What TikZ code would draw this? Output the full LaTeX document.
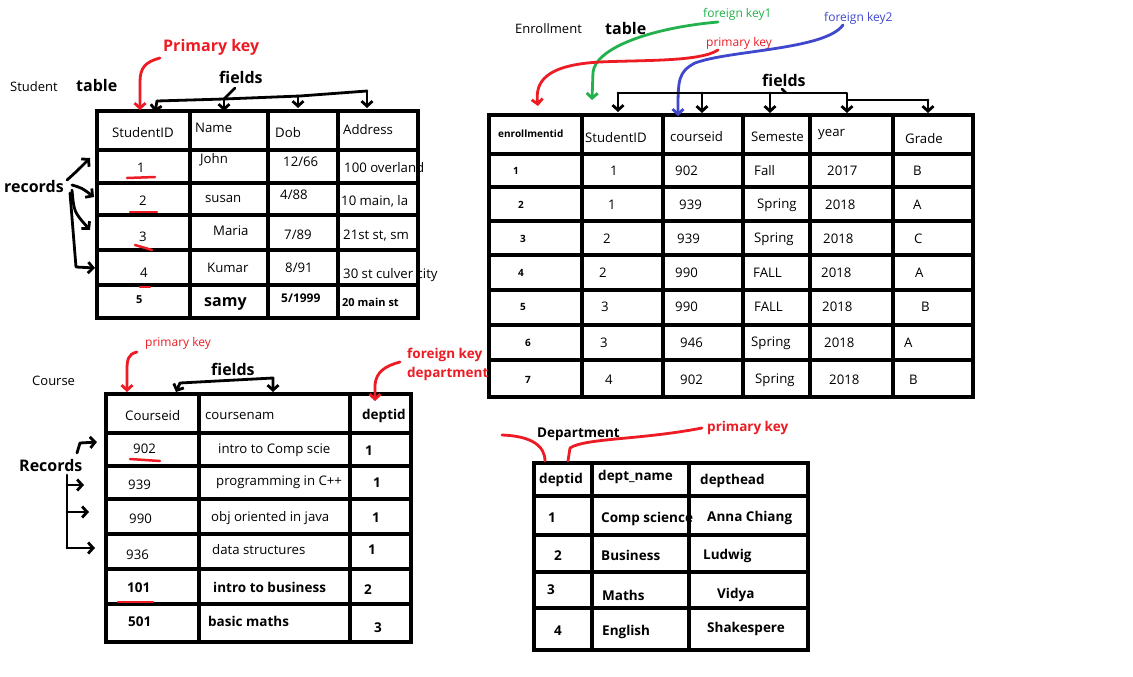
\documentclass[tikz,border=0pt]{standalone}
\usepackage{fontspec}
\setmainfont{Open Sans}
\usetikzlibrary{arrows.meta}
\definecolor{pred}{RGB}{237,28,36}
\definecolor{pgreen}{RGB}{34,177,76}
\definecolor{pblue}{RGB}{63,72,204}
\tikzset{
  gridline/.style={line width=4.5pt, line cap=rect},
  tx/.style={inner sep=0pt, anchor=west, font=\fontsize{13.2}{15}\selectfont},
  sm/.style={inner sep=0pt, anchor=west, font=\fontsize{13}{15}\selectfont},
  key/.style={inner sep=0pt, anchor=west, font=\fontsize{12}{14}\selectfont},
  bd/.style={inner sep=0pt, anchor=west, font=\fontsize{16}{18}\selectfont\bfseries},
  bdm/.style={inner sep=0pt, anchor=west, font=\fontsize{13.5}{15}\selectfont\bfseries},
  bds/.style={inner sep=0pt, anchor=west, font=\fontsize{10}{12}\selectfont\bfseries},
  pen/.style={line width=2.8pt, line cap=round, line join=round},
  arr/.style={pen, -{Straight Barb[length=5pt,width=11pt]}},
  arrb/.style={pen, {Straight Barb[length=5pt,width=11pt]}-{Straight Barb[length=5pt,width=11pt]}},
  uline/.style={pred, line width=2.5pt, line cap=round},
}
\begin{document}
\begin{tikzpicture}[x=1pt,y=-1pt]
\useasboundingbox (0,0) rectangle (1133,677);
\fill[white] (0,0) rectangle (1133,677);

% ================= STUDENT =================
\node[sm] (stlbl) at (10,87) {Student};
\node[bd] (sttable) at (76,86) {table};
\node[bd, text=pred] (stpk) at (163,47) {Primary key};
\node[bd] (stfields) at (219,77) {fields};
\node[bd] (strec) at (4,186) {records};

\node[tx] (s00) at (112,133) {StudentID};
\node[tx] (s01) at (195,128) {Name};
\node[tx] (s02) at (275,133) {Dob};
\node[tx] (s03) at (343,130) {Address};
\node[tx] (s10) at (137,168) {1};
\node[tx] (s11) at (200,160) {John};
\node[tx] (s12) at (283,162) {12/66};
\node[tx] (s13) at (344,168) {100 overland};
\node[tx] (s20) at (139,201) {2};
\node[tx] (s21) at (205,199) {susan};
\node[tx] (s22) at (280,195) {4/88};
\node[tx] (s23) at (341,201) {10 main, la};
\node[tx] (s30) at (139,237) {3};
\node[tx] (s31) at (213,231) {Maria};
\node[tx] (s32) at (284,235) {7/89};
\node[tx] (s33) at (343,236) {21st st, sm};
\node[tx] (s40) at (140,273) {4};
\node[tx] (s41) at (207,268) {Kumar};
\node[tx] (s42) at (285,268) {8/91};
\node[tx] (s43) at (343,275) {30 st culver city};
\node[bds, font=\fontsize{11}{13}\selectfont\bfseries] (s50) at (136,300) {5};
\node[bd] (s51) at (204,304) {samy};
\node[bds, font=\fontsize{12}{14}\selectfont\bfseries] (s52) at (281,298) {5/1999};
\node[bds, font=\fontsize{11}{13}\selectfont\bfseries] (s53) at (342,302) {20 main st};

\foreach \x in {97,190,268,338,418} \draw[gridline] (\x,111) -- (\x,318);
\foreach \y in {111,150,183,215,250,285,318} \draw[gridline] (97,\y) -- (418,\y);

% student underlines
\draw[uline] (127,178) -- (155,177);
\draw[uline] (130,212) -- (157,212);
\draw[uline] (135,245) -- (152,250);
\draw[uline] (140,287) -- (150,287);

% student primary key arrow
\coordinate (stpkend) at (140,110);
\draw[arr, pred] (160,58) .. controls (145,62) and (140,68) .. (140,82) -- (stpkend);

% student fields
\draw[pen] (235,88) -- (224,99);
\draw[pen] (157,101) -- (224,99) -- (300,96) -- (367,91);
\draw[arr] (157,101) -- (155,112);
\draw[arr] (224,99) -- (224,111);
\draw[arr] (298,96) -- (298,108);
\draw[arr] (367,91) -- (367,108);

% student records
\draw[arr] (67,180) .. controls (76,172) .. (90,158);
\draw[arr] (72,185) .. controls (82,188) .. (94,197);
\draw[arr] (72,190) .. controls (74,212) .. (90,230);
\draw[arr] (70,193) -- (76,267) -- (95,268);

% ================= ENROLLMENT =================
\node[sm] (enlbl) at (515,29) {Enrollment};
\node[bd] (entable) at (605,29) {table};
\node[key, text=pgreen] (fk1) at (703,14) {foreign key1};
\node[key, text=pblue] (fk2) at (824,18) {foreign key2};
\node[key, text=pred] (enpk) at (706,43) {primary key};
\node[bd] (enfields) at (762,80) {fields};

\node[bds] (e00) at (498,134) {enrollmentid};
\node[tx] (e01) at (585,138) {StudentID};
\node[tx] (e02) at (670,137) {courseid};
\node[tx] (e03) at (751,137) {Semeste};
\node[tx] (e04) at (818,134) {year};
\node[tx] (e05) at (905,139) {Grade};

\foreach \r/\yy/\a/\b/\c/\d/\e/\f/\xa/\xb/\xc/\xd/\xe/\xf in {
  1/171/1/1/902/Fall/2017/B/513/610/675/754/827/913,
  2/205/2/1/939/Spring/2018/A/518/608/679/757/825/913,
  3/239/3/2/939/Spring/2018/C/520/603/677/754/823/914,
  4/273/4/2/990/FALL/2018/A/518/599/675/753/821/915,
  5/307/5/3/990/FALL/2018/B/520/601/675/754/822/921,
  6/343/6/3/946/Spring/2018/A/525/600/680/751/824/904,
  7/380/7/4/902/Spring/2018/B/525/605/680/755/829/909}{
  \node[bds] (e\r a) at (\xa,\yy) {\a};
  \node[tx] (e\r b) at (\xb,\yy) {\b};
  \node[tx] (e\r c) at (\xc,\yy) {\c};
  \node[tx] (e\r d) at (\xd,\yy) {\d};
  \node[tx] (e\r e) at (\xe,\yy) {\e};
  \node[tx] (e\r f) at (\xf,\yy) {\f};
}

\foreach \x in {489,582,663,743,810,893,973} \draw[gridline] (\x,115) -- (\x,397);
\foreach \y in {115,154,187,221,255,290,325,360,397} \draw[gridline] (489,\y) -- (973,\y);

% enrollment key arrows
\coordinate (fk1end) at (592,100);
\coordinate (enpkend) at (538,106);
\coordinate (fk2end) at (678,116);
\draw[arr, pgreen] (718,22) .. controls (650,28) and (596,48) .. (593,72) -- (fk1end);
\draw[arr, pred] (718,50) .. controls (700,62) and (640,60) .. (600,62)
   .. controls (545,65) and (535,82) .. (enpkend);
\draw[arr, pblue] (843,25) .. controls (825,50) and (730,50) .. (695,63)
   .. controls (678,72) and (678,80) .. (fk2end);

% enrollment fields
\draw[pen] (782,89) -- (786,93);
\draw[pen] (618,93) -- (847,93) -- (847,100) -- (928,100);
\draw[arr] (618,93) -- (618,112);
\draw[arr] (702,93) -- (702,113);
\draw[arr] (770,93) -- (770,113);
\draw[arr] (847,100) -- (847,113);
\draw[arr] (928,100) -- (928,113);

% ================= COURSE =================
\node[sm] (colbl) at (32,381) {Course};
\node[key, text=pred] (copk) at (145,343) {primary key};
\node[bd] (cofields) at (211,369) {fields};
\node[bdm, text=pred] (cofk1) at (407,355) {foreign key};
\node[bdm, text=pred] (cofk2) at (407,374) {department};
\node[bd] (corec) at (19,465) {Records};

\node[tx] (c00) at (125,416) {Courseid};
\node[tx] (c01) at (205,416) {coursenam};
\node[bdm] (c02) at (362,416) {deptid};
\node[tx] (c10) at (133,449) {902};
\node[tx] (c11) at (218,450) {intro to Comp scie};
\node[bdm] (c12) at (365,451) {1};
\node[tx] (c20) at (128,485) {939};
\node[tx] (c21) at (216,482) {programming in C++};
\node[bdm] (c22) at (373,483) {1};
\node[tx] (c30) at (129,519) {990};
\node[tx] (c31) at (211,518) {obj oriented in java};
\node[bdm] (c32) at (372,518) {1};
\node[tx] (c40) at (126,555) {936};
\node[tx] (c41) at (212,550) {data structures};
\node[bdm] (c42) at (368,550) {1};
\node[bdm] (c50) at (127,588) {101};
\node[bdm] (c51) at (213,587) {intro to business};
\node[bdm] (c52) at (364,590) {2};
\node[bdm] (c60) at (128,622) {501};
\node[bdm] (c61) at (208,621) {basic maths};
\node[bdm] (c62) at (374,628) {3};

\foreach \x in {106,199,350,411} \draw[gridline] (\x,394) -- (\x,642);
\foreach \y in {394,433,466,499,534,569,604,642} \draw[gridline] (106,\y) -- (411,\y);

\draw[uline] (130,459) -- (160,461);
\draw[uline] (118,602) -- (153,602);

\coordinate (copkend) at (127,392);
\coordinate (cofkend) at (375,401);
\draw[arr, pred] (137,352) .. controls (128,354) and (127,360) .. (127,370) -- (copkend);
\draw[arr, pred] (400,362) .. controls (385,366) and (376,372) .. (375,385) -- (cofkend);

% course fields
\draw[arrb] (176,392) -- (180,383) -- (273,378) -- (273,392);

% course records
\draw[arr] (77,453) -- (80,443) -- (97,442);
\draw[pen] (67,475) -- (67,548);
\draw[arr] (67,548) -- (95,548);
\draw[arr] (67,485) -- (84,485);
\draw[arr] (67,512) -- (89,512);

% ================= DEPARTMENT =================
\node[bdm] (dplbl) at (537,434) {Department};
\node[bdm, text=pred] (dppk) at (707,428) {primary key};

\node[bdm] (d00) at (539,480) {deptid};
\node[bdm] (d01) at (598,477) {dept\_name};
\node[bdm] (d02) at (700,481) {depthead};
\node[bdm] (d10) at (548,518) {1};
\node[bdm] (d11) at (601,519) {Comp science};
\node[bdm] (d12) at (707,518) {Anna Chiang};
\node[bdm] (d20) at (554,556) {2};
\node[bdm] (d21) at (601,555) {Business};
\node[bdm] (d22) at (703,556) {Ludwig};
\node[bdm] (d30) at (547,590) {3};
\node[bdm] (d31) at (602,595) {Maths};
\node[bdm] (d32) at (717,595) {Vidya};
\node[bdm] (d40) at (554,631) {4};
\node[bdm] (d41) at (602,632) {English};
\node[bdm] (d42) at (707,629) {Shakespere};

\foreach \x in {534,592,689,808} \draw[gridline] (\x,463) -- (\x,650);
\foreach \y in {463,496,535,572,608,650} \draw[gridline] (534,\y) -- (808,\y);

\draw[pen, pred] (502,435) .. controls (530,436) and (545,445) .. (545,461);
\draw[pen, pred] (702,428) .. controls (640,440) and (585,438) .. (570,448) -- (568,461);
\end{tikzpicture}
\end{document}
